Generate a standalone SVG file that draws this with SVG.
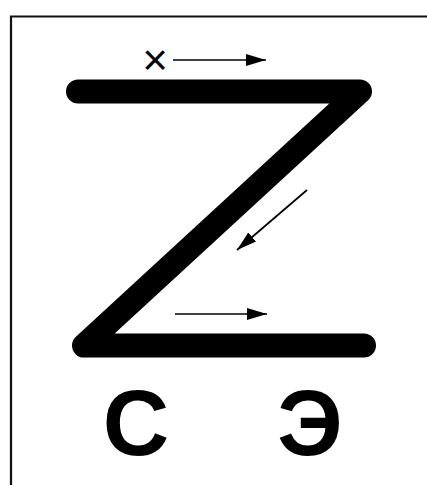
<svg xmlns="http://www.w3.org/2000/svg" width="427" height="485" viewBox="0 0 427 485">
<style>
.frame{fill:none;stroke:#111;stroke-width:2.2}
.z{fill:none;stroke:#000;stroke-width:24;stroke-linecap:round;stroke-linejoin:round}
.arr{fill:none;stroke:#000;stroke-width:1.7}
.lbl{font-family:"Liberation Sans",Arial,sans-serif;font-weight:bold;fill:#000;text-anchor:middle}
.x{font-family:"Liberation Sans",Arial,sans-serif;fill:#000;text-anchor:middle}
</style>
<defs>
<marker id="ah" viewBox="0 0 20 12" refX="20" refY="6" markerWidth="20" markerHeight="12" markerUnits="userSpaceOnUse" orient="auto">
<path d="M0,0 L20,6 L0,12 Z" fill="#000"/>
</marker>
</defs>
<rect width="427" height="485" fill="#fff"/>
<path class="frame" d="M11,485 V16.5 H427"/>
<g id="zigzag">
<path class="z" d="M78,91.5 H360 L84,345.5 H364"/>
</g>
<g id="labels">
<text class="x" x="155" y="75" font-size="44">×</text>
<text class="lbl" x="136" y="455" font-size="92">С</text>
<text class="lbl" x="310" y="455" font-size="92">Э</text>
</g>
<g id="connectors">
<path class="arr" d="M173,60 H266" marker-end="url(#ah)"/>
<path class="arr" d="M307,190 L237,250" marker-end="url(#ah)"/>
<path class="arr" d="M175,314 H267" marker-end="url(#ah)"/>
</g>
</svg>
